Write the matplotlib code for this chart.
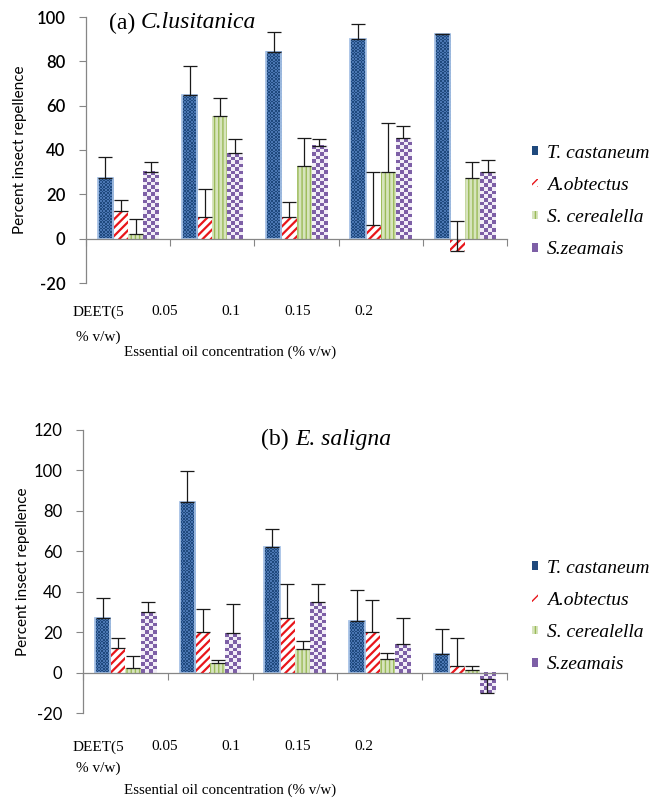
import matplotlib
matplotlib.use("Agg")
import matplotlib.pyplot as plt
from matplotlib.colors import ListedColormap
import numpy as np

W, H = 667, 799

species = ["T. castaneum", "A.obtectus", "S. cerealella", "S.zeamais"]
conc_labels = ["DEET(5\n% v/w)", "0.05", "0.1", "0.15", "0.2"]

# (a) C. lusitanica - means and upper error
a_tc = [27.3, 64.6, 84.4, 90.0, 92.2]
a_tc_err = [9.5, 13.3, 9.0, 6.7, 0.3]
a_ao = [12.3, 9.6, 9.6, 6.3, -5.7]
a_ao_err = [5.0, 12.9, 6.9, 23.6, 13.5]
a_sc = [2.1, 55.4, 33.0, 30.0, 27.3]
a_sc_err = [6.8, 8.0, 12.3, 22.4, 7.5]
a_sz = [30.3, 38.6, 42.0, 45.3, 29.9]
a_sz_err = [4.5, 6.3, 3.0, 5.7, 5.7]

# (b) E. saligna
b_tc = [26.9, 84.2, 62.3, 25.7, 9.1]
b_tc_err = [9.9, 15.5, 8.7, 15.2, 12.5]
b_ao = [12.0, 19.9, 27.2, 19.9, 3.3]
b_ao_err = [5.0, 11.6, 16.5, 16.0, 13.7]
b_sc = [2.1, 4.6, 11.7, 6.6, 1.3]
b_sc_err = [6.3, 1.7, 4.1, 3.3, 2.0]
b_sz = [29.8, 19.4, 34.8, 14.2, -10.0]
b_sz_err = [5.3, 14.7, 8.9, 12.7, 7.0]

# face, hatch, hatch colour, hatch linewidth, checker (colour2, cell px)
styles = [
    ("#1f497d", None, None, 1.0, ("#4a76b2", 1.6)),
    ("white", "////", "#e8161b", 1.6, None),
    ("#d7e4bd", "||||", "#9bbb59", 1.0, None),
    ("#7d5fa6", None, None, 1.0, ("#f2eef7", 3.6)),
]

SERIF = "Liberation Serif"
SANS = "Lato"


def px(x, y):
    return x / W, 1 - y / H


def checker_fill(ax, bars, c1, c2, cell):
    # checkerboard texture laid over each bar
    cmap = ListedColormap([c1, c2])
    sx = ax.transData.transform((1, 0))[0] - ax.transData.transform((0, 0))[0]
    sy = ax.transData.transform((0, 1))[1] - ax.transData.transform((0, 0))[1]
    for b in bars:
        x0, y0 = b.get_x(), b.get_y()
        w, h = b.get_width(), b.get_height()
        nc = max(1, int(round(abs(w) * sx / cell)))
        nr = max(1, int(round(abs(h) * sy / cell)))
        grid = (np.add.outer(np.arange(nr), np.arange(nc)) % 2).astype(float)
        ax.imshow(grid, cmap=cmap, vmin=0, vmax=1, interpolation="nearest",
                  extent=(x0, x0 + w, y0, y0 + h), aspect="auto", zorder=2.2)


fig = plt.figure(figsize=(W / 100, H / 100), dpi=100)


def panel(rect, series, errs, ylim, yticks, title_parts, title_pos, tick_weight,
          leg_center, tick_y, line_gap, xlabel_y, ylabel_x, ylabel_y):
    ax = fig.add_axes(rect)
    x = np.arange(len(conc_labels))
    width = 0.18
    ax.set_xlim(-0.5, len(conc_labels) - 0.5)
    ax.set_ylim(*ylim)
    for i, (vals, err, sty, name) in enumerate(zip(series, errs, styles, species)):
        face, hatch, hcol, hlw, chk = sty
        pos = x + (i - 1.5) * width
        with plt.rc_context({"hatch.linewidth": hlw}):
            bars = ax.bar(pos, vals, width, color=face, hatch=hatch,
                          edgecolor=hcol if hcol else face, linewidth=0,
                          label=name, zorder=2)
        if chk:
            checker_fill(ax, bars, face, chk[0], chk[1])
        if i == 0:
            ax.bar(pos, vals, width, fill=False, edgecolor="#a7c2e6",
                   linewidth=1.3, zorder=2.5)
        ax.errorbar(pos, vals, yerr=[np.zeros(len(vals)), err], fmt="none",
                    ecolor="#1a1a1a", elinewidth=0.9, capsize=5, capthick=0.9,
                    zorder=3)

    ax.set_xlim(-0.5, len(conc_labels) - 0.5)
    ax.set_ylim(*ylim)
    ax.set_yticks(yticks)
    ax.set_yticklabels([str(t) for t in yticks], fontfamily=SANS,
                       fontsize=12, fontweight=tick_weight)
    ax.set_xticks(np.arange(len(conc_labels) + 1) - 0.5)
    ax.set_xticklabels([])
    ax.tick_params(axis="x", direction="out", length=5, color="#868686")
    ax.tick_params(axis="y", direction="out", length=5, color="#868686", pad=10)
    for s in ("top", "right"):
        ax.spines[s].set_visible(False)
    ax.spines["bottom"].set_position(("data", 0))
    for s in ("left", "bottom"):
        ax.spines[s].set_color("#868686")
        ax.spines[s].set_linewidth(0.9)

    # title inside the plot
    tx, ty = title_pos
    fig.text(*px(tx, ty), title_parts[0], fontfamily=SERIF, fontsize=17,
             ha="right", va="center")
    fig.text(*px(tx + 6, ty), title_parts[1], fontfamily=SERIF, fontsize=17,
             style="italic", ha="left", va="center")

    # category labels (placed as in the original figure)
    for j, lab in enumerate(conc_labels):
        lx = 98 + 66.5 * j
        for k, line in enumerate(lab.split("\n")):
            fig.text(*px(lx, tick_y + k * line_gap), line, fontfamily=SERIF,
                     fontsize=11, ha="center", va="center")
    fig.text(*px(230, xlabel_y), "Essential oil concentration (% v/w)",
             fontfamily=SERIF, fontsize=10.8, ha="center", va="center")
    fig.text(*px(ylabel_x, ylabel_y), "Percent insect repellence",
             fontfamily=SANS, fontsize=11, rotation=90, ha="center", va="center")

    leg_handles = [plt.Rectangle((0, 0), 1, 1, facecolor=s[0],
                                 hatch=s[1], edgecolor=s[2] if s[2] else s[0],
                                 linewidth=0) for s in styles]
    fig.legend(handles=leg_handles, labels=species, loc="center left",
               bbox_to_anchor=px(*leg_center), frameon=False,
               prop={"family": SERIF, "style": "italic", "size": 14},
               handlelength=0.32, handleheight=0.32, handletextpad=0.45,
               labelspacing=0.78, borderpad=0, borderaxespad=0)
    return ax


panel([86 / W, 1 - 283 / H, 421 / W, 266 / H],
      [a_tc, a_ao, a_sc, a_sz], [a_tc_err, a_ao_err, a_sc_err, a_sz_err],
      (-20, 100), list(range(-20, 101, 20)), ("(a)", "C.lusitanica"), (135, 23),
      "semibold", (532, 201.5), 312, 25, 352, 20, 150)

panel([83 / W, 1 - 713 / H, 424 / W, 283 / H],
      [b_tc, b_ao, b_sc, b_sz], [b_tc_err, b_ao_err, b_sc_err, b_sz_err],
      (-20, 120), list(range(-20, 121, 20)), ("(b)", "E. saligna"), (289, 439),
      "normal", (532, 616.5), 747, 21, 790, 23, 572)

fig.savefig("out.png", dpi=100)
